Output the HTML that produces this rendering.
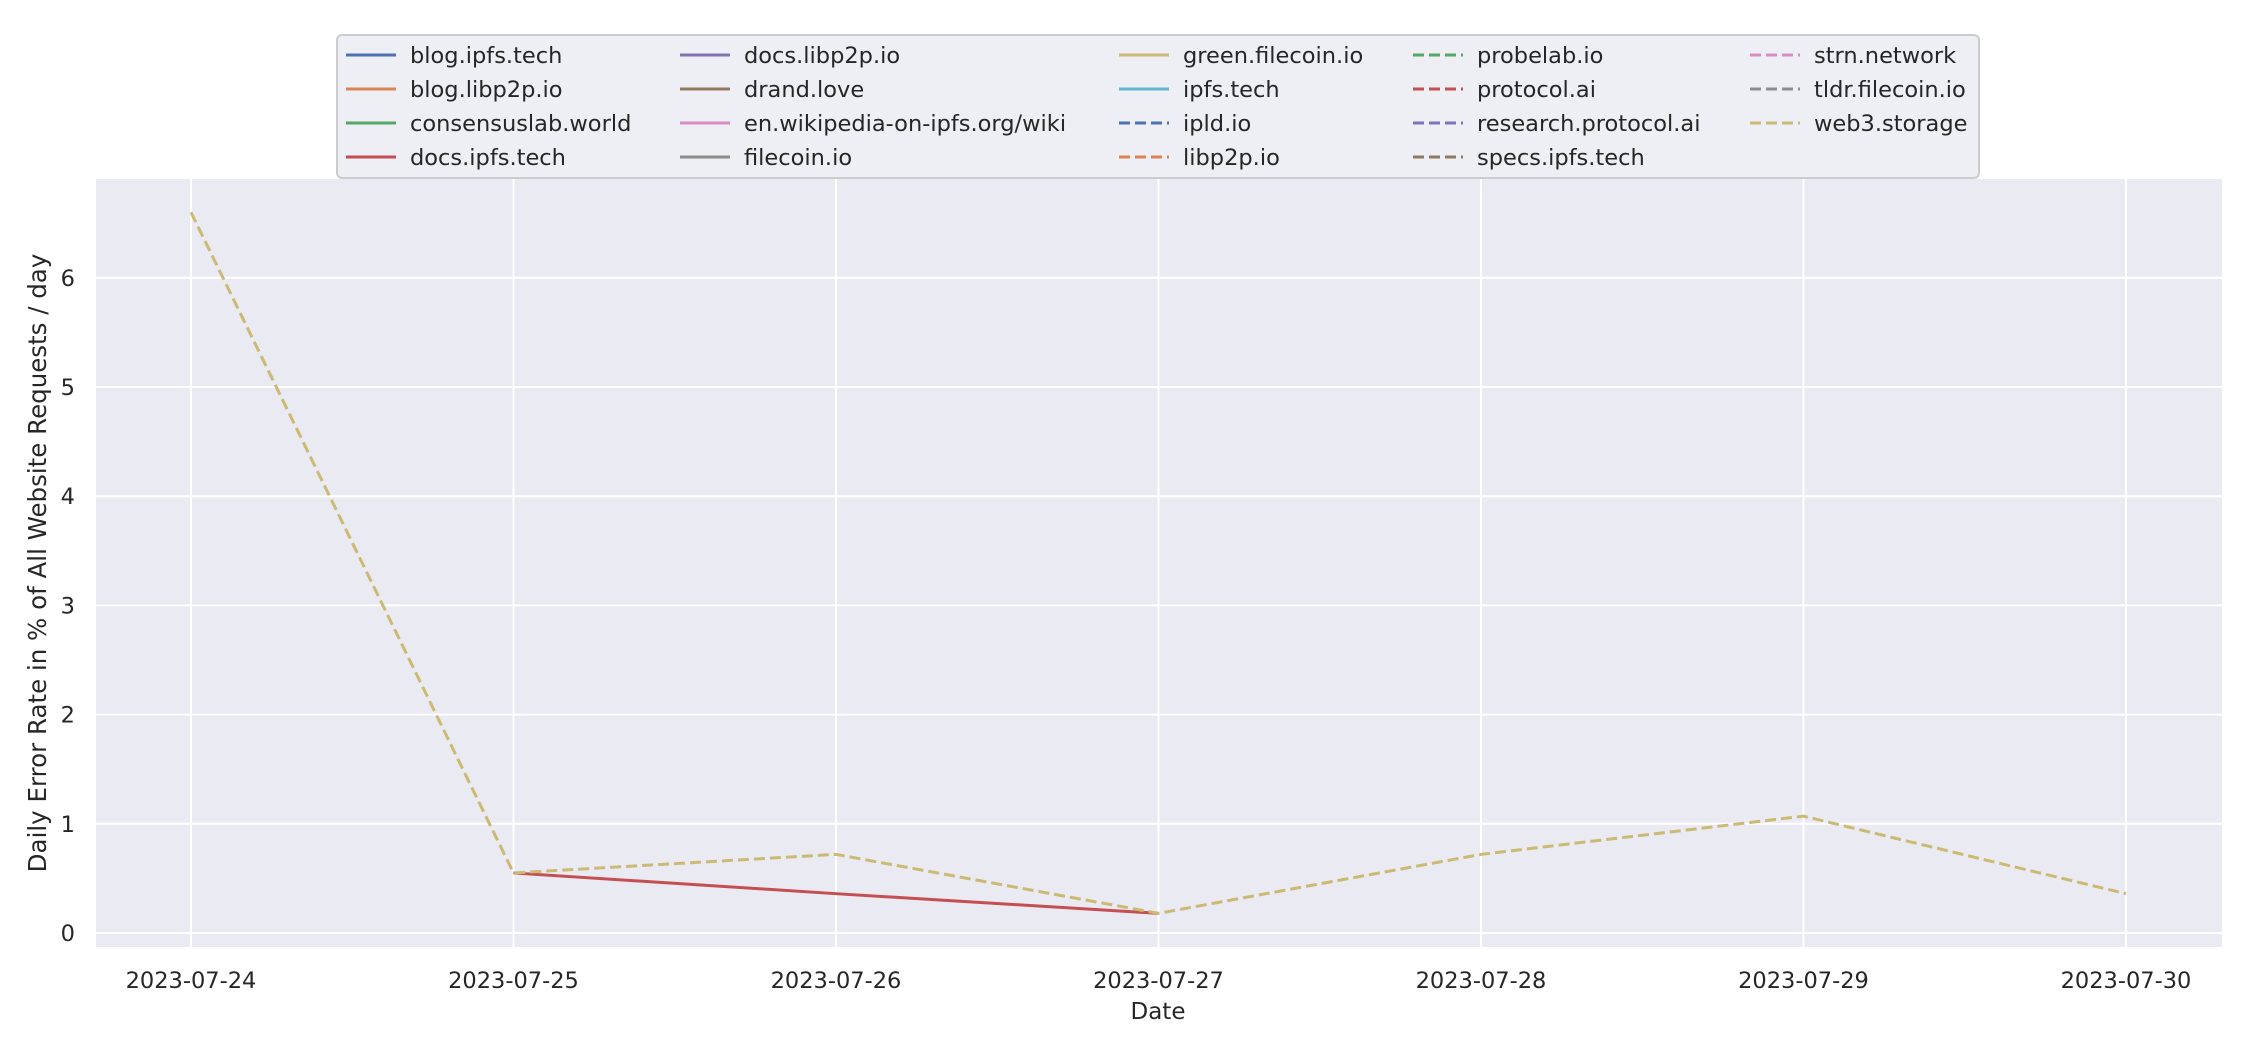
<!DOCTYPE html>
<html><head><meta charset="utf-8"><style>
html,body{margin:0;padding:0;background:#fff;}
svg{display:block;font-family:"DejaVu Sans","Liberation Sans",sans-serif;}
</style></head><body>
<svg id="chart" width="2250" height="1050" xmlns="http://www.w3.org/2000/svg">
<rect x="96" y="179" width="2126" height="768" fill="#eaeaf2"/>
<g id="grid"></g>
<g id="series"></g>
<g id="ticks" fill="#262626" font-size="22.5"></g>
<text x="1158" y="1019" text-anchor="middle" font-size="23" fill="#262626">Date</text>
<text transform="translate(46,563) rotate(-90)" text-anchor="middle" font-size="24.5" fill="#262626">Daily Error Rate in % of All Website Requests / day</text>
<g id="legend"></g>
</svg>
<script>
const dates=["2023-07-24","2023-07-25","2023-07-26","2023-07-27","2023-07-28","2023-07-29","2023-07-30"];
const yTicks=[0,1,2,3,4,5,6];
const web3Storage=[6.6,0.55,0.72,0.18,0.72,1.07,0.36];
const docsIpfsIdx=[1,2,3];
const docsIpfs=[0.55,0.36,0.18];
const legendNames=["blog.ipfs.tech","blog.libp2p.io","consensuslab.world","docs.ipfs.tech","docs.libp2p.io","drand.love","en.wikipedia-on-ipfs.org/wiki","filecoin.io","green.filecoin.io","ipfs.tech","ipld.io","libp2p.io","probelab.io","protocol.ai","research.protocol.ai","specs.ipfs.tech","strn.network","tldr.filecoin.io","web3.storage"];
const legendColors=["#4c72b0","#dd8452","#55a868","#c44e52","#8172b3","#937860","#da8bc3","#8c8c8c","#ccb974","#64b5cd","#4c72b0","#dd8452","#55a868","#c44e52","#8172b3","#937860","#da8bc3","#8c8c8c","#ccb974"];
const legendDashed=[0,0,0,0,0,0,0,0,0,0,1,1,1,1,1,1,1,1,1];

const NS="http://www.w3.org/2000/svg";
const X=i=>191+i*322.5;
const Y=v=>933-v*109.2;
function mk(tag,attrs,parent){const e=document.createElementNS(NS,tag);for(const k in attrs)e.setAttribute(k,attrs[k]);parent.appendChild(e);return e;}
const grid=document.getElementById('grid'),ticks=document.getElementById('ticks');
yTicks.forEach(v=>{
  const l=mk('line',{x1:96,x2:2222,y1:Y(v),y2:Y(v),stroke:'#fff','stroke-width':2},grid);
  
  
  const t=mk('text',{x:75,y:Y(v)+8,'text-anchor':'end'},ticks);t.textContent=v;
  
  
});
dates.forEach((d,i)=>{
  const l=mk('line',{x1:X(i),x2:X(i),y1:179,y2:947,stroke:'#fff','stroke-width':2},grid);
  
  
  const t=mk('text',{x:X(i),y:988,'text-anchor':'middle'},ticks);t.textContent=d;
  
  
});
const series=document.getElementById('series');
const p1=mk('polyline',{points:docsIpfs.map((v,k)=>X(docsIpfsIdx[k])+','+Y(v)).join(' '),fill:'none',stroke:'#c44e52','stroke-width':3},series);


const p2=mk('polyline',{points:web3Storage.map((v,i)=>X(i)+','+Y(v)).join(' '),fill:'none',stroke:'#ccb974','stroke-width':3,'stroke-dasharray':'11 5'},series);


const lg=document.getElementById('legend');
const box=mk('rect',{x:337,y:35,width:1642,height:143,rx:5,fill:'#eaeaf2','fill-opacity':0.8,stroke:'#cccccc','stroke-width':2},lg);


const colX=[346,680,1119,1413,1750];
legendNames.forEach((n,i)=>{
  const c=Math.floor(i/4),r=i%4,y=55+r*34;
  const g=mk('g',{},lg);
  
  
  const a={x1:colX[c],x2:colX[c]+50,y1:y,y2:y,stroke:legendColors[i],'stroke-width':3};
  if(legendDashed[i])a['stroke-dasharray']='11 5';
  mk('line',a,g);
  const t=mk('text',{x:colX[c]+64,y:y+8,'font-size':22.5,fill:'#262626'},g);t.textContent=n;
});
</script>
</body></html>
